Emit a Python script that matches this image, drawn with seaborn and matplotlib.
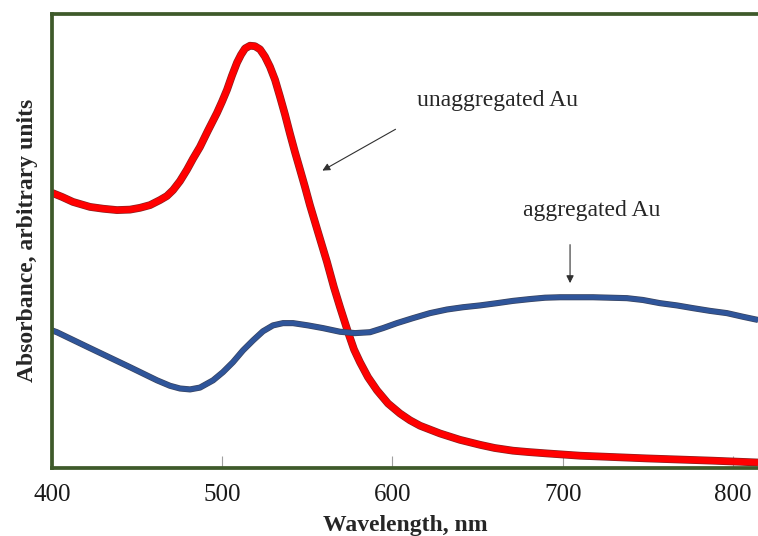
import numpy as np
import pandas as pd
import matplotlib
matplotlib.use("Agg")
import matplotlib.pyplot as plt
import matplotlib.patheffects as pe
import seaborn as sns

# Absorption spectra of gold nanoparticles (arbitrary units)
wl_unagg = [400.0, 405.9, 412.3, 422.3, 430.0, 438.2, 445.8, 451.7, 457.6, 463.4,
            467.5, 471.1, 475.2, 479.3, 482.8, 486.9, 491.6, 496.9, 499.9, 502.8,
            505.7, 508.7, 511.0, 513.4, 516.3, 519.2, 522.2, 525.1, 528.0, 531.0,
            533.9, 536.9, 539.8, 542.7, 545.7, 548.6, 551.5, 556.2, 561.5, 565.6,
            569.2, 573.9, 577.4, 580.9, 585.6, 590.9, 597.4, 604.4, 610.3, 616.2,
            627.9, 639.6, 651.4, 660.0, 670.8, 680.0, 690.7, 710.1, 749.5, 788.3,
            814.7]
abs_unagg = [0.605, 0.596, 0.585, 0.574, 0.570, 0.567, 0.568, 0.572, 0.578, 0.589,
             0.598, 0.611, 0.631, 0.656, 0.680, 0.706, 0.742, 0.781, 0.806, 0.832,
             0.863, 0.892, 0.909, 0.923, 0.929, 0.928, 0.921, 0.905, 0.883, 0.854,
             0.817, 0.777, 0.735, 0.695, 0.656, 0.618, 0.578, 0.519, 0.453, 0.397,
             0.353, 0.298, 0.260, 0.232, 0.199, 0.170, 0.141, 0.119, 0.104, 0.092,
             0.075, 0.061, 0.050, 0.043, 0.037, 0.034, 0.031, 0.026, 0.020, 0.015,
             0.011]

wl_agg = [400.0, 402.9, 422.3, 445.8, 461.7, 469.3, 475.2, 481.1, 486.9, 494.6,
          500.4, 506.3, 512.2, 518.1, 523.9, 529.8, 535.7, 541.6, 550.4, 559.2,
          569.2, 578.0, 586.8, 594.4, 602.6, 612.0, 622.0, 632.0, 641.4, 651.4,
          661.4, 670.8, 680.8, 689.6, 698.4, 708.4, 717.8, 727.8, 737.7, 747.1,
          757.1, 767.1, 776.5, 786.5, 796.5, 805.9, 814.7]
abs_agg = [0.302, 0.298, 0.263, 0.221, 0.192, 0.180, 0.174, 0.172, 0.176, 0.192,
           0.210, 0.232, 0.258, 0.280, 0.300, 0.313, 0.318, 0.318, 0.313, 0.307,
           0.299, 0.296, 0.298, 0.307, 0.318, 0.329, 0.340, 0.348, 0.353, 0.357,
           0.362, 0.367, 0.371, 0.374, 0.375, 0.375, 0.375, 0.374, 0.373, 0.369,
           0.362, 0.357, 0.351, 0.345, 0.340, 0.332, 0.325]

x_ticks = [400, 500, 600, 700, 800]

df = pd.concat([
    pd.DataFrame({"wl": wl_unagg, "A": abs_unagg, "s": "unaggregated Au"}),
    pd.DataFrame({"wl": wl_agg, "A": abs_agg, "s": "aggregated Au"}),
], ignore_index=True)

sns.set_theme(style="white")
plt.rcParams["font.family"] = ["Liberation Serif", "DejaVu Serif"]

W, H = 758, 536
fig = plt.figure(figsize=(W / 100, H / 100), dpi=100)
ax = fig.add_axes([52 / W, (H - 467.5) / H, (W - 52) / W, (467.5 - 13.5) / H])

sns.lineplot(data=df[df.s == "unaggregated Au"], x="wl", y="A", ax=ax,
             color="#ff0000", lw=4.6, sort=False,
             solid_joinstyle="round", solid_capstyle="butt",
             path_effects=[pe.Stroke(linewidth=5.6, foreground="#8a2020"), pe.Normal()])
sns.lineplot(data=df[df.s == "aggregated Au"], x="wl", y="A", ax=ax,
             color="#2f559a", lw=3.4, sort=False,
             solid_joinstyle="round", solid_capstyle="butt",
             path_effects=[pe.Stroke(linewidth=4.4, foreground="#3a4560"), pe.Normal()])

ax.set_xlim(400, 814.7)
ax.set_ylim(0, 1)
ax.set_xticks(x_ticks)
ax.set_yticks([])
ax.tick_params(axis="x", direction="in", length=9, width=0.8, color="#a0a0a0",
               labelsize=18, pad=12, bottom=True, labelcolor="#1a1a1a")

spine_col = "#3e5a2a"
for side in ["left", "top", "bottom"]:
    ax.spines[side].set_color(spine_col)
    ax.spines[side].set_linewidth(2.7)
ax.spines["right"].set_visible(False)

ax.set_xlabel("Wavelength, nm", fontsize=17, fontweight="bold", labelpad=6)
ax.set_ylabel("Absorbance, arbitrary units", fontsize=17, fontweight="bold", labelpad=10)

arrow = dict(arrowstyle="-|>", color="#303030", lw=0.8, mutation_scale=11)
ax.text(661.7, 0.808, "unaggregated Au", fontsize=17, ha="center", va="center")
ax.annotate("", xy=(557.4, 0.651), xytext=(603.2, 0.748), arrowprops=arrow)
ax.text(717.2, 0.567, "aggregated Au", fontsize=17, ha="center", va="center")
ax.annotate("", xy=(704.3, 0.400), xytext=(704.3, 0.497), arrowprops=arrow)

fig.savefig("out.png", dpi=100)
